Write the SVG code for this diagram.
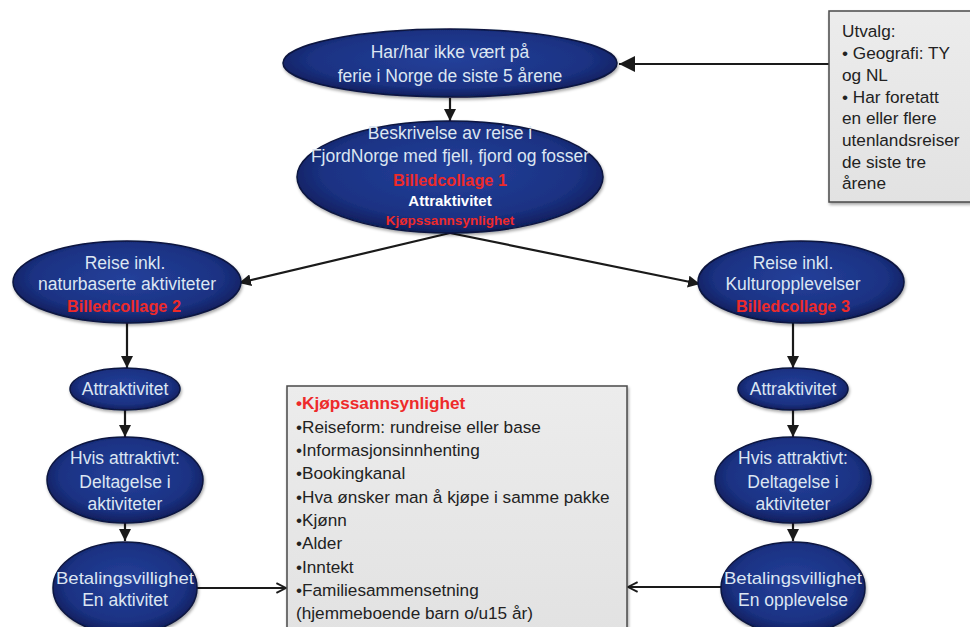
<svg xmlns="http://www.w3.org/2000/svg" width="970" height="627" viewBox="0 0 970 627">
<defs>
<radialGradient id="blue" cx="50%" cy="45%" r="55%">
<stop offset="0" stop-color="#24409a"/>
<stop offset="0.75" stop-color="#1b3283"/>
<stop offset="1" stop-color="#0f1e5c"/>
</radialGradient>
<linearGradient id="grey" x1="0" y1="0" x2="0" y2="1">
<stop offset="0" stop-color="#ececec"/>
<stop offset="1" stop-color="#e2e2e2"/>
</linearGradient>
<filter id="sh" x="-10%" y="-10%" width="120%" height="130%">
<feDropShadow dx="1" dy="2" stdDeviation="1.5" flood-color="#000" flood-opacity="0.35"/>
</filter>
<marker id="tri" viewBox="0 0 10 10" refX="10" refY="5" markerWidth="12" markerHeight="12" markerUnits="userSpaceOnUse" orient="auto">
<path d="M0,0 L10,5 L0,10 Z" fill="#1a1a1a"/>
</marker>
<marker id="triL" viewBox="0 0 10 10" refX="10" refY="5" markerWidth="20" markerHeight="16" markerUnits="userSpaceOnUse" orient="auto">
<path d="M0,0 L10,5 L0,10 Z" fill="#1a1a1a"/>
</marker>
<marker id="open" viewBox="0 0 10 10" refX="9" refY="5" markerWidth="12" markerHeight="14" markerUnits="userSpaceOnUse" orient="auto">
<path d="M1,1 L9,5 L1,9" fill="none" stroke="#1a1a1a" stroke-width="1.6"/>
</marker>
</defs>
<style>
.el{fill:url(#blue);stroke:#0a143f;stroke-width:1.5;filter:url(#sh)}
.t{font-family:"Liberation Sans",Arial,sans-serif;font-size:17.5px;fill:#dce6f2;text-anchor:middle}
.t17{font-size:17px}
.r{font-family:"Liberation Sans",Arial,sans-serif;font-size:16.3px;font-weight:bold;fill:#ee2a2a;text-anchor:middle}
.r12{font-size:13.5px}
.w{font-family:"Liberation Sans",Arial,sans-serif;font-size:15px;font-weight:bold;fill:#ffffff;text-anchor:middle}
.box{fill:url(#grey);stroke:#4a4a4a;stroke-width:1.5;filter:url(#sh)}
.b{font-family:"Liberation Sans",Arial,sans-serif;font-size:17.2px;fill:#222}
.br{font-family:"Liberation Sans",Arial,sans-serif;font-size:17.2px;fill:#ee2a2a;font-weight:bold}
.c{fill:none;stroke:#1a1a1a;stroke-width:2.2}
</style>
<rect width="970" height="627" fill="#ffffff"/>

<g id="connectors">
<line class="c" x1="829" y1="64" x2="619" y2="64" marker-end="url(#triL)"/>
<line class="c" x1="450" y1="98" x2="450" y2="121" marker-end="url(#tri)"/>
<line class="c" x1="450" y1="233" x2="239" y2="283" marker-end="url(#tri)"/>
<line class="c" x1="450" y1="233" x2="700" y2="284" marker-end="url(#tri)"/>
<line class="c" x1="127" y1="323" x2="127" y2="368" marker-end="url(#tri)"/>
<line class="c" x1="125" y1="410" x2="125" y2="437" marker-end="url(#tri)"/>
<line class="c" x1="125" y1="523" x2="125" y2="541" marker-end="url(#tri)"/>
<line class="c" x1="793" y1="323" x2="793" y2="368" marker-end="url(#tri)"/>
<line class="c" x1="793" y1="410" x2="793" y2="437" marker-end="url(#tri)"/>
<line class="c" x1="793" y1="523" x2="793" y2="541" marker-end="url(#tri)"/>
<line class="c" x1="197" y1="588" x2="286" y2="588" marker-end="url(#open)"/>
<line class="c" x1="722" y1="587" x2="628" y2="587" marker-end="url(#open)"/>
</g>

<g id="n-utvalg">
<rect class="box" x="829" y="11" width="150" height="191"/>
<text class="b" x="842" y="37">Utvalg:</text>
<text class="b" x="842" y="59">• Geografi: TY</text>
<text class="b" x="842" y="81">og NL</text>
<text class="b" x="842" y="103">• Har foretatt</text>
<text class="b" x="842" y="124">en eller flere</text>
<text class="b" x="842" y="146">utenlandsreiser</text>
<text class="b" x="842" y="168">de siste tre</text>
<text class="b" x="842" y="189">årene</text>
</g>

<g id="n-top">
<ellipse class="el" cx="450" cy="63" rx="167" ry="34"/>
<text class="t" x="450" y="58">Har/har ikke vært på</text>
<text class="t" x="450" y="82">ferie i Norge de siste 5 årene</text>
</g>

<g id="n-beskrivelse">
<ellipse class="el" cx="450" cy="177" rx="153" ry="56"/>
<text class="t" x="450" y="139">Beskrivelse av reise i</text>
<text class="t" x="450" y="162">FjordNorge med fjell, fjord og fosser</text>
<text class="r" x="450" y="186">Billedcollage 1</text>
<text class="w" x="450" y="206">Attraktivitet</text>
<text class="r r12" x="450" y="225">Kjøpssannsynlighet</text>
</g>

<g id="n-natur">
<ellipse class="el" cx="127" cy="282" rx="114" ry="41"/>
<text class="t" x="125" y="269">Reise inkl.</text>
<text class="t" x="127" y="290">naturbaserte aktiviteter</text>
<text class="r" x="124" y="312">Billedcollage 2</text>
</g>

<g id="n-kultur">
<ellipse class="el" cx="801" cy="282" rx="103" ry="41"/>
<text class="t" x="793" y="269">Reise inkl.</text>
<text class="t" x="793" y="290">Kulturopplevelser</text>
<text class="r" x="793" y="312">Billedcollage 3</text>
</g>

<g id="n-attr-l">
<ellipse class="el" cx="125" cy="389" rx="55" ry="21"/>
<text class="t" x="125" y="395">Attraktivitet</text>
</g>

<g id="n-attr-r">
<ellipse class="el" cx="793" cy="389" rx="55" ry="21"/>
<text class="t" x="793" y="395">Attraktivitet</text>
</g>

<g id="n-hvis-l">
<ellipse class="el" cx="125" cy="480" rx="78" ry="43"/>
<text class="t" x="125" y="464">Hvis attraktivt:</text>
<text class="t" x="125" y="488">Deltagelse i</text>
<text class="t" x="125" y="510">aktiviteter</text>
</g>

<g id="n-hvis-r">
<ellipse class="el" cx="793" cy="480" rx="78" ry="43"/>
<text class="t" x="793" y="464">Hvis attraktivt:</text>
<text class="t" x="793" y="488">Deltagelse i</text>
<text class="t" x="793" y="510">aktiviteter</text>
</g>

<g id="n-betal-l">
<ellipse class="el" cx="125" cy="588" rx="72" ry="46"/>
<text class="t t17" x="125" y="584" textLength="138" lengthAdjust="spacingAndGlyphs">Betalingsvillighet</text>
<text class="t" x="125" y="606">En aktivitet</text>
</g>

<g id="n-betal-r">
<ellipse class="el" cx="793" cy="588" rx="72" ry="46"/>
<text class="t t17" x="793" y="584" textLength="138" lengthAdjust="spacingAndGlyphs">Betalingsvillighet</text>
<text class="t" x="793" y="606">En opplevelse</text>
</g>

<g id="n-variabler">
<rect class="box" x="287" y="386" width="340" height="250"/>
<text class="br" x="296" y="409">•Kjøpssannsynlighet</text>
<text class="b" x="296" y="433">•Reiseform: rundreise eller base</text>
<text class="b" x="296" y="456">•Informasjonsinnhenting</text>
<text class="b" x="296" y="479">•Bookingkanal</text>
<text class="b" x="296" y="503">•Hva ønsker man å kjøpe i samme pakke</text>
<text class="b" x="296" y="526">•Kjønn</text>
<text class="b" x="296" y="549">•Alder</text>
<text class="b" x="296" y="573">•Inntekt</text>
<text class="b" x="296" y="596">•Familiesammensetning</text>
<text class="b" x="296" y="619">(hjemmeboende  barn o/u15 år)</text>
</g>
</svg>
